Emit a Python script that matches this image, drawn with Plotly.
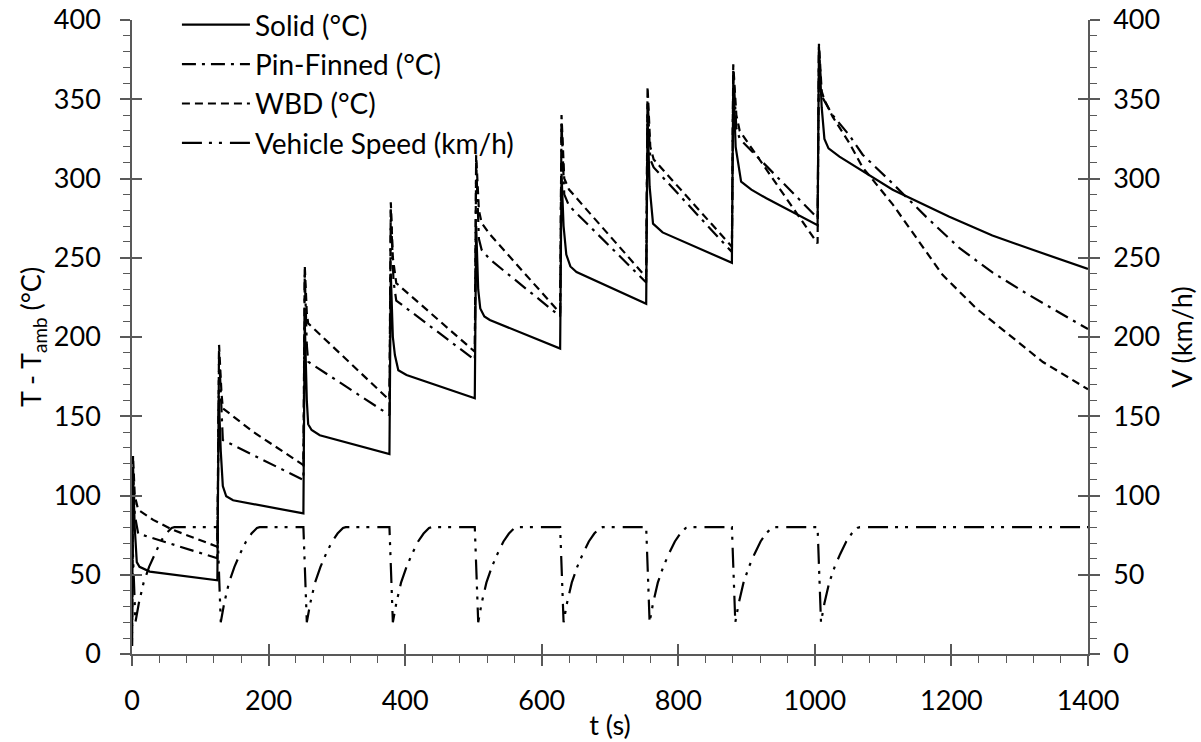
import plotly.graph_objects as go

# ---------------- data ----------------
solid_t = [0, 1.5, 4, 7, 11, 26, 125,
           127, 130, 133, 138, 148, 251,
           253, 256, 258, 263, 275, 377,
           379, 382, 385, 390, 402, 502,
           504, 507, 510, 516, 524, 627,
           629, 632, 636, 642, 651, 753,
           755, 758, 763, 777, 878.5,
           880.5, 884, 892, 907, 929, 1004,
           1006, 1010, 1014, 1020, 1036, 1065, 1114, 1197, 1260, 1319, 1400]
solid_v = [5, 114, 80, 58, 55, 52, 46.5,
           163, 128, 106, 99.5, 97, 88.7,
           210, 160, 145, 141.3, 138, 126.2,
           240, 200, 188.6, 179, 176, 161.3,
           270, 230, 218, 213, 210.7, 192.7,
           303, 270, 252, 244.5, 241, 221,
           339, 295, 271.5, 266, 246.8,
           362, 320, 298, 293, 287.5, 270.5,
           383, 345, 325, 319, 313.8, 306, 292.9, 275.8, 264, 255, 243]

pin_t = [0, 1.5, 4, 9, 31, 125,
         127.5, 131, 133, 251,
         253, 256, 258, 377,
         379, 383, 387, 502,
         504, 508, 512, 524, 627,
         629, 633, 640, 753,
         755, 759, 764, 878.5,
         880.5, 885, 890, 1004,
         1006, 1010, 1014, 1026, 1051, 1070, 1114, 1163, 1212, 1261, 1310, 1400]
pin_v = [5, 118, 88, 76, 73, 60.4,
         190, 150, 135, 109.8,
         240, 195, 184.4, 150.8,
         280, 235, 223, 185.5,
         310, 262, 255, 249, 213,
         335, 290, 282.8, 234.4,
         352, 312, 307, 253.6,
         368, 332, 325, 275,
         380, 352, 349, 340, 327, 315, 296.8, 275.8, 256, 240.5, 227.4, 205]

wbd_t = [0, 1.5, 4, 9, 31, 60, 125,
         127.5, 131, 133, 177, 251,
         253, 256, 258, 377,
         379, 382, 387, 502,
         504, 508, 512, 524, 627,
         629, 633, 640, 753,
         755, 759, 764, 878.5,
         880.5, 885, 890, 1004,
         1006, 1010, 1014, 1026, 1051, 1070, 1114, 1187, 1236, 1285, 1334, 1400]
wbd_v = [5, 125, 100, 91, 84.6, 78.3, 67.7,
         195, 165, 155, 140.3, 119.2,
         245, 215, 208.6, 160.2,
         285, 250, 234, 190.7,
         315, 280, 272, 264.8, 215,
         340, 300, 293, 237.7,
         358, 320, 312, 257,
         372, 340, 330, 259,
         385, 355, 349.5, 339, 322, 307, 283.7, 239.2, 218.2, 201.2, 184.2, 167]

speed_t = [0, 5, 10, 17, 25, 33, 42, 50, 58, 62,
           125, 130, 135, 142, 150, 158, 167, 175, 183, 187,
           251, 256, 261, 268, 276, 284, 293, 301, 309, 313,
           377, 382, 387, 394, 402, 410, 419, 427, 435, 439,
           502, 507, 512, 519, 527, 535, 544, 552, 560, 564,
           627, 632, 637, 644, 652, 660, 669, 677, 685, 689,
           753, 758, 763, 770, 778, 786, 795, 803, 811, 815,
           878.5, 883.5, 888.5, 895.5, 903.5, 911.5, 920.5, 928.5, 936.5, 940.5,
           1004, 1009, 1014, 1021, 1029, 1037, 1046, 1054, 1062, 1066,
           1400]
speed_v = [80, 20, 32, 45, 55, 63, 71, 76, 79.5, 80,
           80, 20, 32, 45, 55, 63, 71, 76, 79.5, 80,
           80, 20, 32, 45, 55, 63, 71, 76, 79.5, 80,
           80, 20, 32, 45, 55, 63, 71, 76, 79.5, 80,
           80, 20, 32, 45, 55, 63, 71, 76, 79.5, 80,
           80, 20, 32, 45, 55, 63, 71, 76, 79.5, 80,
           80, 20, 32, 45, 55, 63, 71, 76, 79.5, 80,
           80, 20, 32, 45, 55, 63, 71, 76, 79.5, 80,
           80, 20, 32, 45, 55, 63, 71, 76, 79.5, 80,
           80]

x_ticks = [0, 200, 400, 600, 800, 1000, 1200, 1400]
y_ticks = [0, 50, 100, 150, 200, 250, 300, 350, 400]

# ---------------- styling ----------------
FONT = "Lato"
FS = 27
AX = "#595959"

fig = go.Figure()
fig.add_trace(go.Scatter(x=solid_t, y=solid_v, name="Solid (°C)", mode="lines",
                         line=dict(color="black", width=2.2), xaxis="x", yaxis="y"))
fig.add_trace(go.Scatter(x=pin_t, y=pin_v, name="Pin-Finned (°C)", mode="lines",
                         line=dict(color="black", width=2.2, dash="14px,6px,3px,6px"),
                         xaxis="x", yaxis="y3"))
fig.add_trace(go.Scatter(x=wbd_t, y=wbd_v, name="WBD (°C)", mode="lines",
                         line=dict(color="black", width=2.2, dash="8px,5px"),
                         xaxis="x2", yaxis="y4"))
fig.add_trace(go.Scatter(x=speed_t, y=speed_v, name="Vehicle Speed (km/h)", mode="lines",
                         line=dict(color="black", width=2.2, dash="20px,7px,3px,7px,3px,8px"),
                         xaxis="x", yaxis="y2"))

common = dict(showgrid=False, zeroline=False, automargin=False,
              tickfont=dict(family=FONT, size=FS, color="black"),
              tickcolor=AX, tickwidth=1.5)
minor_x = dict(ticks="outside", ticklen=7, dtick=40, tickcolor=AX, tickwidth=1.2)
minor_y = dict(ticks="outside", ticklen=7, dtick=10, tickcolor=AX, tickwidth=1.2)

fig.update_layout(
    width=1201, height=742,
    margin=dict(l=132, r=113, t=20, b=88, autoexpand=False),
    paper_bgcolor="white", plot_bgcolor="white",
    font=dict(family=FONT, size=FS, color="black"),
    showlegend=True,
    legend=dict(x=0.047, y=1.0, xref="paper", yref="container",
                xanchor="left", yanchor="top",
                bgcolor="rgba(0,0,0,0)", font=dict(family=FONT, size=28, color="black"),
                itemwidth=68),
    xaxis=dict(range=[0, 1400], tickvals=x_ticks, ticks="outside", ticklen=10,
               showline=True, linecolor=AX, linewidth=1.5, minor=minor_x,
               ticklabelstandoff=12,
               title=dict(text="t (s)", font=dict(family=FONT, size=FS), standoff=1), **common),
    xaxis2=dict(range=[0, 1400], overlaying="x", anchor="y", side="bottom",
                tickvals=x_ticks, ticks="inside", ticklen=10, showticklabels=False,
                showline=False, **common),
    yaxis=dict(range=[0, 400], tickvals=y_ticks, ticks="outside", ticklen=10,
               showline=True, linecolor=AX, linewidth=1.5, minor=minor_y,
               ticklabelstandoff=14,
               title=dict(text="T - T<sub>amb</sub> (°C)", font=dict(family=FONT, size=FS), standoff=4),
               **common),
    yaxis2=dict(range=[0, 400], tickvals=y_ticks, overlaying="y", side="right", anchor="x",
                ticks="outside", ticklen=10, showline=True, linecolor=AX, linewidth=1.5,
                minor=minor_y, ticklabelstandoff=8,
                title=dict(text="V (km/h)", font=dict(family=FONT, size=FS), standoff=14),
                **common),
    yaxis3=dict(range=[0, 400], tickvals=y_ticks, overlaying="y", side="left", anchor="x",
                ticks="inside", ticklen=10, showticklabels=False, showline=False, **common),
    yaxis4=dict(range=[0, 400], tickvals=y_ticks, overlaying="y", side="right", anchor="x2",
                ticks="inside", ticklen=10, showticklabels=False, showline=False, **common),
)

fig.write_html("out.html")
